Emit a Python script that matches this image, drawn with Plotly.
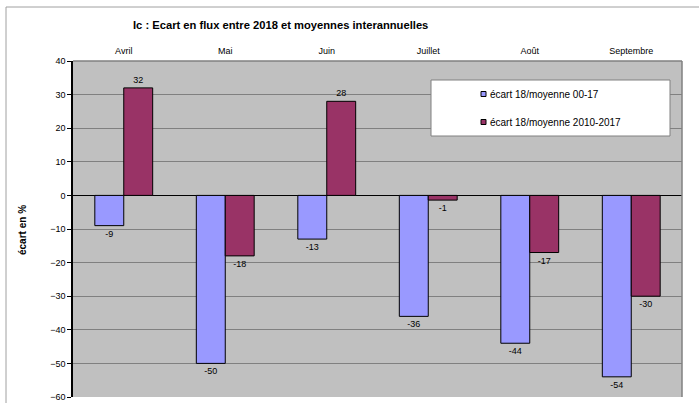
import plotly.graph_objects as go

months = ["Avril", "Mai", "Juin", "Juillet", "Août", "Septembre"]
ecart_00_17 = [-9, -50, -13, -36, -44, -54]
ecart_2010_2017 = [32, -18, 28, -1.4, -17, -30]
labels_00_17 = ["-9", "-50", "-13", "-36", "-44", "-54"]
labels_2010_2017 = ["32", "-18", "28", "-1", "-17", "-30"]
y_ticks = [40, 30, 20, 10, 0, -10, -20, -30, -40, -50, -60]
series_names = ["écart 18/moyenne 00-17", "écart 18/moyenne 2010-2017"]
series_colors = ["#9999FF", "#993366"]

FONT = "Liberation Sans, Arial, sans-serif"

fig = go.Figure()
fig.add_trace(go.Bar(
    x=months, y=ecart_00_17, name=series_names[0],
    marker=dict(color=series_colors[0], line=dict(color="#000000", width=1)),
    text=labels_00_17, textposition="outside", cliponaxis=False,
    textfont=dict(size=9, color="#000000", family=FONT),
    showlegend=False,
))
fig.add_trace(go.Bar(
    x=months, y=ecart_2010_2017, name=series_names[1],
    marker=dict(color=series_colors[1], line=dict(color="#000000", width=1)),
    text=labels_2010_2017, textposition="outside", cliponaxis=False,
    textfont=dict(size=9, color="#000000", family=FONT),
    showlegend=False,
))

L, R, T, B = 73, 17, 61, 6
W, H = 699, 403
pw, ph = W - L - R, H - T - B

def px(x):
    return (x - L) / pw

def py(y):
    return (H - B - y) / ph

shapes = [
    # legend box
    dict(type="rect", xref="paper", yref="paper",
         x0=px(431), x1=px(670), y0=py(136), y1=py(80),
         fillcolor="#FFFFFF", line=dict(color="#808080", width=1), layer="above"),
    # plot area top/right borders
    dict(type="line", xref="paper", yref="paper", x0=0, x1=1, y0=1, y1=1,
         line=dict(color="#808080", width=1.5)),
    dict(type="line", xref="paper", yref="paper", x0=1, x1=1, y0=0, y1=1,
         line=dict(color="#808080", width=1.5)),
    # outer chart border
    dict(type="line", xref="paper", yref="paper", x0=px(6), x1=px(699), y0=py(7), y1=py(7),
         line=dict(color="#A0A0A0", width=1)),
    dict(type="line", xref="paper", yref="paper", x0=px(6), x1=px(6), y0=py(403), y1=py(7),
         line=dict(color="#A0A0A0", width=1)),
]
annotations = [
    dict(text="<b>Ic : Ecart en flux entre 2018 et moyennes interannuelles</b>",
         xref="paper", yref="paper", x=px(280), y=py(25), showarrow=False,
         xanchor="center", yanchor="middle", font=dict(size=11.2, family=FONT)),
    dict(text="<b>écart en %</b>", textangle=-90,
         xref="paper", yref="paper", x=px(22), y=py(230), showarrow=False,
         xanchor="center", yanchor="middle", font=dict(size=10, family=FONT)),
]
# legend entries
for i, (nm, col) in enumerate(zip(series_names, series_colors)):
    cy = 94 + 28 * i
    shapes.append(dict(type="rect", xref="paper", yref="paper",
                       x0=px(481), x1=px(486), y0=py(cy + 2.5), y1=py(cy - 2.5),
                       fillcolor=col, line=dict(color="#000000", width=1), layer="above"))
    annotations.append(dict(text=nm, xref="paper", yref="paper", x=px(488), y=py(cy),
                            xanchor="left", yanchor="middle", showarrow=False,
                            font=dict(size=10, family=FONT, color="#000000")))

fig.update_layout(
    width=W, height=H,
    margin=dict(l=L, r=R, t=T, b=B, pad=0),
    paper_bgcolor="#FFFFFF",
    plot_bgcolor="#C0C0C0",
    font=dict(family=FONT, size=9, color="#000000"),
    barmode="group", bargap=0.43, bargroupgap=0,
    showlegend=False,
    xaxis=dict(
        side="top", showgrid=False, showline=False, ticks="",
        tickfont=dict(size=9, color="#000000"), ticklabelstandoff=4,
        automargin=False,
    ),
    yaxis=dict(
        range=[-60, 40], tickvals=y_ticks, showgrid=True,
        gridcolor="#808080", gridwidth=1,
        zeroline=True, zerolinecolor="#000000", zerolinewidth=1,
        showline=True, linecolor="#000000", linewidth=1.5,
        ticks="outside", ticklen=4, tickcolor="#000000",
        tickfont=dict(size=9, color="#000000"),
        automargin=False,
    ),
    shapes=shapes,
    annotations=annotations,
)

fig.write_html("out.html")
